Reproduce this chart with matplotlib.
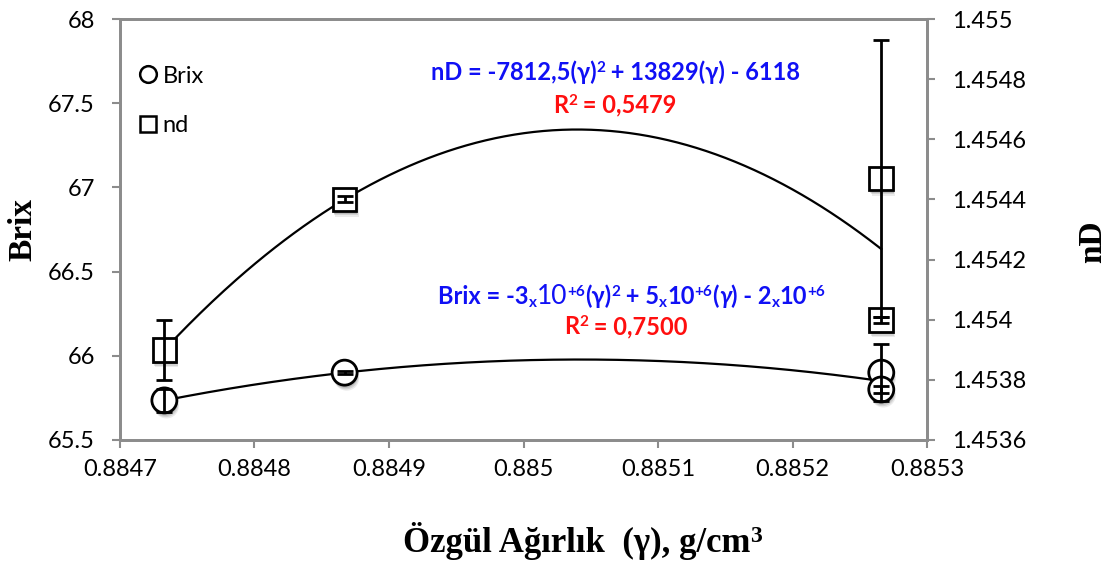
import numpy as np
import matplotlib
matplotlib.use("Agg")
import matplotlib.pyplot as plt
import matplotlib.patheffects as pe
from matplotlib import transforms
from matplotlib.lines import Line2D

# ---- data -------------------------------------------------------------
gamma = [0.884733, 0.884867, 0.885266, 0.885266]      # specific gravity, g/cm3
brix = [65.735, 65.90, 65.90, 65.80]
brix_err = [0.07, 0.01, 0.17, 0.02]
nd = [1.45390, 1.45440, 1.45447, 1.45400]
nd_err = [0.00010, 0.00001, 0.00046, 0.00001]

x_ticks = [0.8847, 0.8848, 0.8849, 0.8850, 0.8851, 0.8852, 0.8853]
x_tick_labels = ["0.8847", "0.8848", "0.8849", "0.885", "0.8851", "0.8852", "0.8853"]
brix_ticks = [65.5, 66.0, 66.5, 67.0, 67.5, 68.0]
brix_tick_labels = ["65.5", "66", "66.5", "67", "67.5", "68"]
nd_ticks = [1.4536, 1.4538, 1.4540, 1.4542, 1.4544, 1.4546, 1.4548, 1.4550]
nd_tick_labels = ["1.4536", "1.4538", "1.454", "1.4542", "1.4544", "1.4546", "1.4548", "1.455"]

# ---- style ------------------------------------------------------------
SANS = ["Lato", "DejaVu Sans"]
SERIF = ["Liberation Serif", "DejaVu Serif"]
GRID_GRAY = "#8c8c8c"
BLUE = "#1010F5"
RED = "#FF0F0F"
TICK_FS = 17
EQ_FS = 17

fig = plt.figure(figsize=(11.09, 5.61), dpi=100)
ax = fig.add_axes([0.1082, 0.2157, 0.7277, 0.7504])
ax2 = ax.twinx()

for a in (ax, ax2):
    for s in a.spines.values():
        s.set_color(GRID_GRAY)
        s.set_linewidth(2.0)
    a.tick_params(direction="out", length=6, width=1.5, color=GRID_GRAY,
                  labelsize=TICK_FS, pad=12)

ax.set_xlim(0.8847, 0.8853)
ax.set_ylim(65.5, 68.0)
ax2.set_ylim(1.4536, 1.4550)
ax.set_xticks(x_ticks)
ax.set_xticklabels(x_tick_labels, family=SANS)
ax.set_yticks(brix_ticks)
ax.set_yticklabels(brix_tick_labels, family=SANS)
ax2.set_yticks(nd_ticks)
ax2.set_yticklabels(nd_tick_labels, family=SANS)
ax.tick_params(axis="x", pad=8)

# ---- quadratic trend lines (least squares on the measured points) -----
xs = np.linspace(min(gamma), max(gamma), 300)
c_brix = np.polyfit(gamma, brix, 2)
c_nd = np.polyfit(gamma, nd, 2)
ax.plot(xs, np.polyval(c_brix, xs), color="black", lw=1.6, zorder=2)
ax2.plot(xs, np.polyval(c_nd, xs), color="black", lw=1.6, zorder=2)

# ---- error bars and markers ------------------------------------------
shadow = [pe.SimplePatchShadow(offset=(0.5, -2.0), shadow_rgbFace="#000000", alpha=0.12),
          pe.SimplePatchShadow(offset=(1.0, -3.0), shadow_rgbFace="#000000", alpha=0.10),
          pe.SimplePatchShadow(offset=(1.5, -4.0), shadow_rgbFace="#000000", alpha=0.08),
          pe.Normal()]

ax.plot(gamma, brix, ls="none", marker="o", ms=18, mfc="white", mec="black",
        mew=2.0, zorder=3, path_effects=shadow)
ax.errorbar(gamma, brix, yerr=brix_err, fmt="none", ecolor="black",
            elinewidth=2.0, capsize=5.5, capthick=2.0, zorder=4)

ax2.plot(gamma, nd, ls="none", marker="s", ms=17, mfc="white", mec="black",
         mew=2.0, zorder=3, path_effects=shadow)
ax2.errorbar(gamma, nd, yerr=nd_err, fmt="none", ecolor="black",
             elinewidth=2.0, capsize=5.5, capthick=2.0, zorder=4)

# ---- legend -----------------------------------------------------------
handles = [Line2D([], [], ls="none", marker="o", ms=12, mfc="white", mec="black", mew=1.8),
           Line2D([], [], ls="none", marker="s", ms=12, mfc="white", mec="black", mew=1.8)]
ax2.legend(handles, ["Brix", "nd"], loc="upper left", bbox_to_anchor=(0.0, 0.94),
           frameon=False, handlelength=0.6, handletextpad=0.3, labelspacing=1.2,
           prop={"family": SANS, "size": TICK_FS})

# ---- axis titles ------------------------------------------------------
fig.text(0.021, 0.59, "Brix", rotation=90, ha="center", va="center",
         family=SERIF, weight="bold", size=24)
fig.text(0.985, 0.57, "nD", rotation=90, ha="center", va="center",
         family=SERIF, weight="bold", size=24)


# ---- labels built from styled pieces ----------------------------------
def rich_line(base, x_frac, y_frac, pieces):
    """Place text pieces side by side, centred on (x_frac, y_frac) in the base transform."""
    fig.canvas.draw()
    renderer = fig.canvas.get_renderer()
    made = []
    widths = []
    for txt, kw in pieces:
        kw = dict(kw)
        dy = kw.pop("dy", 0.0)
        t = fig.text(0, 0, txt, transform=base, ha="left", va="baseline", **kw)
        w = t.get_window_extent(renderer).width
        made.append((t, dy))
        widths.append(w)
    total = sum(widths)
    x0 = -total / 2.0
    for (t, dy), w in zip(made, widths):
        t.set_transform(transforms.offset_copy(base, fig, x=x0, y=dy, units="dots"))
        t.set_position((x_frac, y_frac))
        x0 += w


def B(s, color=BLUE, size=EQ_FS, dy=0.0, weight="bold", style="normal"):
    return (s, dict(color=color, size=size, weight=weight, family=SANS, dy=dy, style=style))


def S(s, size=25, dy=0.0):
    return (s, dict(color="black", size=size, weight="bold", family=SERIF, dy=dy))


SUP = 11
rich_line(fig.transFigure, 0.525, 0.016, [S("Özgül Ağırlık  (γ), g/cm"), S("3", size=17, dy=10)])

rich_line(ax.transAxes, 0.614, 0.854, [B("nD = -7812,5(γ)"), B("2", size=SUP, dy=8),
                                       B(" + 13829(γ) - 6118")])
rich_line(ax.transAxes, 0.613, 0.777, [B("R", color=RED), B("2", color=RED, size=SUP, dy=8),
                                       B(" = 0,5479", color=RED)])

rich_line(ax.transAxes, 0.634, 0.323, [B("Brix = -3"), B("x", size=SUP, dy=-3),
                                       B("10", size=19, weight="normal"), B("+6", size=SUP, dy=8),
                                       B("(γ)"), B("2", size=SUP, dy=8),
                                       B(" + 5"), B("x", size=SUP, dy=-3), B("10"),
                                       B("+6", size=SUP, dy=8),
                                       B("("), B("γ", style="italic"), B(") - 2"),
                                       B("x", size=SUP, dy=-3), B("10"), B("+6", size=SUP, dy=8)])
rich_line(ax.transAxes, 0.627, 0.251, [B("R", color=RED), B("2", color=RED, size=SUP, dy=8),
                                       B(" = 0,7500", color=RED)])

fig.savefig("out.png", dpi=100)
